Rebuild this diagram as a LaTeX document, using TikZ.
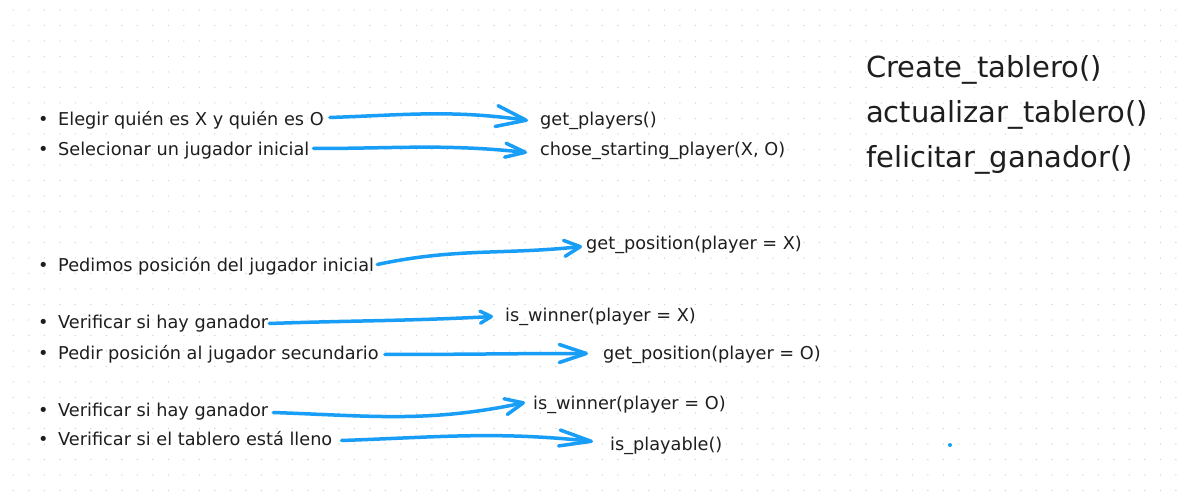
\documentclass[tikz,border=0pt]{standalone}
\usepackage{fontspec}
\setmainfont{DejaVu Sans}
\usetikzlibrary{arrows.meta,calc}

\definecolor{fjblue}{HTML}{189EF6}
\definecolor{ink}{HTML}{1E1E1E}
\newcommand{\bul}{\makebox[20pt][l]{\textbullet}}

\begin{document}
\begin{tikzpicture}[x=1pt,y=1pt,
  item/.style={anchor=base west, inner sep=0pt, text height=13pt, text depth=0pt,
    text=ink, font=\fontsize{17.7}{21}\selectfont},
  func/.style={item},
  big/.style={anchor=base west, inner sep=0pt, text=ink, font=\fontsize{29}{35}\selectfont},
  flow/.style 2 args={draw=fjblue, line width=3.5pt, line cap=round,
    -{Straight Barb[round, length=#1pt, width=#2pt]}}]
  \useasboundingbox (0,0) rectangle (1190,495);
  \fill[white] (0,0) rectangle (1190,495);
  \foreach \i in {0,...,76}
    \foreach \j in {0,...,31}
      \fill[black!18] (13.3+15.5*\i, 485-15.5*\j) circle (0.7);

  \node[big] (crear) at (866,417) {Create\_tablero()};
  \node[big] (actual) at (866,372) {actualizar\_tablero()};
  \node[big] (felic) at (866,327) {felicitar\_ganador()};

  \node[item] (elegir) at (38,369) {\bul Elegir quién es X y quién es O};
  \node[item] (selec) at (38,339) {\bul Selecionar un jugador inicial};
  \node[item] (pedimos) at (38,223) {\bul Pedimos posición del jugador inicial};
  \node[item] (verifA) at (38,166) {\bul Verificar si hay ganador};
  \node[item] (pedir) at (38,135) {\bul Pedir posición al jugador secundario};
  \node[item] (verifB) at (38,78) {\bul Verificar si hay ganador};
  \node[item] (lleno) at (38,49) {\bul Verificar si el tablero está lleno};

  \node[func] (players) at (540,369) {get\_players()};
  \node[func] (starting) at (540,339) {chose\_starting\_player(X, O)};
  \node[func] (posX) at (586,245) {get\_position(player = X)};
  \node[func] (winX) at (505,173) {is\_winner(player = X)};
  \node[func] (posO) at (603,135) {get\_position(player = O)};
  \node[func] (winO) at (533,85) {is\_winner(player = O)};
  \node[func] (playable) at (610,45) {is\_playable()};

  \draw[flow={30}{21}] ($(elegir.east)+(6,2)$) to[out=2,in=172] ($(players.west)+(-12,-1)$);
  \draw[flow={20}{14}] ($(selec.east)+(4,1)$) to[out=0,in=174] ($(starting.west)+(-13,-3)$);
  \draw[flow={16}{16}] ($(pedimos.east)+(3,1)$) to[out=12,in=186] ($(posX.west)+(-4,-3)$);
  \draw[flow={11}{12}] ($(verifA.east)+(1,-1)$) to[out=2,in=183] ($(winX.west)+(-12,-1)$);
  \draw[flow={27}{18}] ($(pedir.east)+(6,-1)$) to[out=0,in=180] ($(posO.west)+(-15,0)$);
  \draw[flow={18}{16}] ($(verifB.east)+(5,-2)$) to[out=-2,in=192] ($(winO.west)+(-8,1)$);
  \draw[flow={32}{16}] ($(lleno.east)+(9,-1)$) to[out=2,in=174] ($(playable.west)+(-17,2)$);

  \fill[fjblue] (950,50) circle (2);
\end{tikzpicture}
\end{document}
